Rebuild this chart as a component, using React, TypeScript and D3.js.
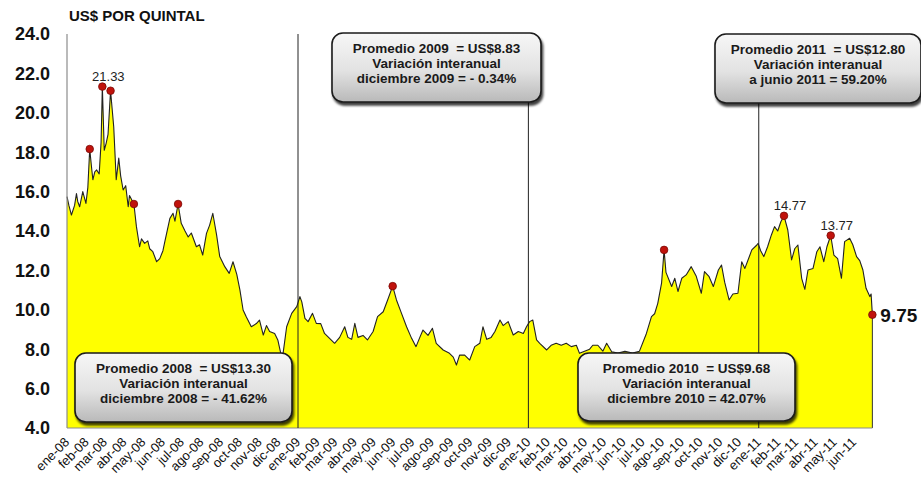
import React from 'react';
import * as d3 from 'd3';

// ---------- DATA ----------
const prices2008: [string, number][] = [
  ["2008-01-01",15.74],["2008-01-04",15.3],["2008-01-08",14.81],["2008-01-13",15.3],["2008-01-16",15.9],["2008-01-18",15.5],
  ["2008-01-21",15.23],["2008-01-26",16.0],["2008-01-31",15.4],["2008-02-03",16.2],["2008-02-06",18.16],["2008-02-09",17.2],
  ["2008-02-11",16.6],["2008-02-14",17.0],["2008-02-17",17.1],["2008-02-21",16.9],["2008-02-24",18.5],["2008-02-26",21.33],
  ["2008-02-29",18.1],["2008-03-03",18.45],["2008-03-06",18.9],["2008-03-10",21.12],["2008-03-15",19.3],["2008-03-19",16.6],
  ["2008-03-23",17.7],["2008-03-26",16.8],["2008-03-30",16.08],["2008-04-03",16.3],["2008-04-07",15.23],["2008-04-09",15.8],
  ["2008-04-16",15.37],["2008-04-20",14.22],["2008-04-25",13.2],["2008-04-28",13.6],["2008-05-03",13.37],["2008-05-08",13.5],
  ["2008-05-11",13.1],["2008-05-16",12.95],["2008-05-22",12.44],["2008-05-27",12.6],["2008-06-01",13.0],["2008-06-04",13.46],
  ["2008-06-12",14.64],["2008-06-17",14.9],["2008-06-20",14.5],["2008-06-25",15.37],["2008-06-30",14.39],["2008-07-06",14.0],
  ["2008-07-11",13.7],["2008-07-16",13.9],["2008-07-24",13.2],["2008-07-29",13.3],["2008-08-03",12.78],["2008-08-09",13.88],
  ["2008-08-14",14.3],["2008-08-19",14.9],["2008-08-25",13.8],["2008-08-30",12.7],["2008-09-07",12.19],["2008-09-14",11.85],
  ["2008-09-20",12.44],["2008-09-26",11.8],["2008-10-01",11.0],["2008-10-06",9.99],["2008-10-11",9.65],["2008-10-19",9.14],
  ["2008-10-27",9.3],["2008-11-01",9.48],["2008-11-07",8.72],["2008-11-12",9.2],["2008-11-17",8.9],["2008-11-25",8.8],
  ["2008-11-30",8.47],["2008-12-06",7.6],["2008-12-08",7.7],["2008-12-14",9.14],["2008-12-22",9.82],["2008-12-30",10.16],
];
const prices2009: [string, number][] = [
  ["2009-01-04",10.67],["2009-01-07",10.4],["2009-01-12",9.57],["2009-01-17",9.4],["2009-01-24",9.82],["2009-01-30",9.31],
  ["2009-02-06",9.3],["2009-02-12",8.8],["2009-02-20",8.55],["2009-02-28",8.3],["2009-03-08",8.6],["2009-03-16",9.14],
  ["2009-03-21",8.6],["2009-03-27",8.5],["2009-04-01",9.31],["2009-04-06",8.6],["2009-04-14",8.7],["2009-04-21",8.47],
  ["2009-04-30",8.9],["2009-05-07",9.65],["2009-05-16",9.9],["2009-05-23",10.5],["2009-05-31",11.2],["2009-06-06",10.5],
  ["2009-06-14",9.82],["2009-06-22",9.14],["2009-06-30",8.55],["2009-07-07",8.13],["2009-07-13",8.6],["2009-07-18",8.97],
  ["2009-07-26",8.7],["2009-08-02",9.06],["2009-08-08",8.3],["2009-08-19",7.96],["2009-08-29",7.79],["2009-09-04",7.6],
  ["2009-09-09",7.2],["2009-09-14",7.7],["2009-09-22",7.7],["2009-09-30",7.45],["2009-10-08",8.13],["2009-10-16",8.3],
  ["2009-10-21",9.14],["2009-10-27",8.5],["2009-11-03",8.6],["2009-11-09",8.9],["2009-11-17",9.48],["2009-11-22",9.2],
  ["2009-11-30",9.4],["2009-12-08",8.72],["2009-12-16",8.9],["2009-12-24",8.8],["2009-12-29",9.14],
];
const prices2010: [string, number][] = [
  ["2010-01-03",9.4],["2010-01-08",9.48],["2010-01-14",8.47],["2010-01-19",8.3],["2010-01-30",7.96],["2010-02-06",8.2],
  ["2010-02-14",8.3],["2010-02-22",8.2],["2010-03-02",8.3],["2010-03-10",8.13],["2010-03-18",8.2],["2010-03-23",7.79],
  ["2010-03-31",7.9],["2010-04-08",8.0],["2010-04-13",8.2],["2010-04-21",8.2],["2010-04-29",7.9],["2010-05-05",8.3],
  ["2010-05-13",7.87],["2010-05-23",7.8],["2010-06-03",7.9],["2010-06-15",7.8],["2010-06-26",7.9],["2010-07-07",8.8],
  ["2010-07-15",9.65],["2010-07-20",9.8],["2010-07-25",10.33],["2010-07-31",11.35],["2010-08-04",13.04],["2010-08-07",11.9],
  ["2010-08-16",11.18],["2010-08-21",11.6],["2010-08-26",10.93],["2010-09-01",11.6],["2010-09-08",11.77],["2010-09-16",12.19],
  ["2010-09-24",11.7],["2010-10-02",10.84],["2010-10-07",11.94],["2010-10-14",11.7],["2010-10-21",11.18],["2010-10-29",12.02],
  ["2010-11-03",12.27],["2010-11-08",11.4],["2010-11-15",10.5],["2010-11-21",10.8],["2010-11-29",10.84],["2010-12-05",12.44],
  ["2010-12-10",12.1],["2010-12-18",12.78],["2010-12-21",13.04],["2010-12-29",13.29],["2010-12-31",13.37],
];
const prices2011: [string, number][] = [
  ["2011-01-04",13.0],["2011-01-09",12.7],["2011-01-15",13.2],["2011-01-21",13.8],["2011-01-26",14.22],["2011-01-31",14.0],
  ["2011-02-05",14.47],["2011-02-10",14.77],["2011-02-16",14.05],["2011-02-22",12.53],["2011-02-27",13.1],["2011-03-04",13.29],
  ["2011-03-10",11.6],["2011-03-15",11.04],["2011-03-20",12.02],["2011-03-28",12.1],["2011-04-03",12.95],["2011-04-08",13.2],
  ["2011-04-14",12.44],["2011-04-19",13.2],["2011-04-25",13.77],["2011-04-30",12.78],["2011-05-06",12.6],["2011-05-12",11.6],
  ["2011-05-17",13.46],["2011-05-25",13.63],["2011-05-30",13.3],["2011-06-05",12.7],["2011-06-10",12.5],["2011-06-15",12.02],
  ["2011-06-20",11.09],["2011-06-26",10.67],["2011-06-28",10.8],["2011-06-30",9.75],
];

const markerDates = ["2008-02-06","2008-02-26","2008-03-10","2008-04-16","2008-06-25","2009-05-31","2010-08-04","2011-02-10","2011-04-25","2011-06-30"];
const peakLabelDates = ["2008-02-26","2011-02-10","2011-04-25"];
const peakLabelTexts = ["21.33","14.77","13.77"];
const lastLabelText = "9.75";

const yTickValues = [4,6,8,10,12,14,16,18,20,22,24];
const monthAbbr = ["ene","feb","mar","abr","may","jun","jul","ago","sep","oct","nov","dic"];
const yearLineDates = ["2009-01-01","2010-01-01","2011-01-01"];
const axisStart = "2008-01-01";
const axisEnd = "2011-07-01";
const unitTitle = "US$ POR QUINTAL";

const note2008 = ["Promedio 2008  = US$13.30","Variación interanual","diciembre 2008 = - 41.62%"];
const note2009 = ["Promedio 2009  = US$8.83","Variación interanual","diciembre 2009 = - 0.34%"];
const note2010 = ["Promedio 2010  = US$9.68","Variación interanual","diciembre 2010 = 42.07%"];
const note2011 = ["Promedio 2011  = US$12.80","Variación interanual","a junio 2011 = 59.20%"];

// ---------- CHART ----------
const W = 921, H = 477;
const FONT = '"Liberation Sans", Arial, sans-serif';

export default function App() {
  const parse = d3.timeParse('%Y-%m-%d');
  const data = [...prices2008, ...prices2009, ...prices2010, ...prices2011].map(([d, v]) => ({ date: parse(d) as Date, value: v }));
  const byDate = new Map(data.map(p => [+p.date, p.value]));

  const x = d3.scaleTime().domain([parse(axisStart) as Date, parse(axisEnd) as Date]).range([67, 873]);
  const y = d3.scaleLinear().domain([4, 24]).range([428, 34]);

  const area = d3.area<{ date: Date; value: number }>().x(d => x(d.date)).y0(y(4)).y1(d => y(d.value));
  const line = d3.line<{ date: Date; value: number }>().x(d => x(d.date)).y(d => y(d.value));

  const months = d3.timeMonth.range(parse(axisStart) as Date, parse(axisEnd) as Date);
  const last = data[data.length - 1];

  const notes = [
    { lines: note2008, x: 75, y: 353, w: 217, h: 69 },
    { lines: note2009, x: 332, y: 33, w: 209, h: 69 },
    { lines: note2010, x: 578, y: 353, w: 217, h: 68 },
    { lines: note2011, x: 715, y: 34, w: 206, h: 69 },
  ];

  return (
    <svg width={W} height={H} style={{ position: 'absolute', left: 0, top: 0, background: '#fff' }} fontFamily={FONT}>
      <defs>
        <linearGradient id="boxGrad" x1="0" y1="0" x2="0" y2="1">
          <stop offset="0%" stopColor="#f7f7f7" />
          <stop offset="55%" stopColor="#e2e2e2" />
          <stop offset="100%" stopColor="#b9b9b9" />
        </linearGradient>
        <filter id="shadow" x="-10%" y="-10%" width="130%" height="140%">
          <feDropShadow dx="1.5" dy="3" stdDeviation="1.2" floodColor="#000" floodOpacity="0.75" />
        </filter>
      </defs>

      <text x={69} y={21} fontSize={15} fontWeight="bold" fill="#111">{unitTitle}</text>

      {yTickValues.map(v => (
        <text key={v} x={50} y={y(v)} dy="0.36em" textAnchor="end" fontSize={18} fontWeight="bold" fill="#111">{v.toFixed(1)}</text>
      ))}

      <path d={area(data) || ''} fill="#ffff00" />
      <path d={line(data) || ''} fill="none" stroke="#222" strokeWidth={1.1} strokeLinejoin="round" />
      <line x1={x(last.date)} x2={x(last.date)} y1={y(last.value)} y2={y(4)} stroke="#333" strokeWidth={1} />

      {/* axes */}
      <line x1={67} x2={67} y1={y(24)} y2={y(4)} stroke="#8c8c8c" strokeWidth={1.2} />
      <line x1={67} x2={x(last.date)} y1={y(4)} y2={y(4)} stroke="#8c8c8c" strokeWidth={1.2} />

      {yearLineDates.map(d => (
        <line key={d} x1={x(parse(d) as Date)} x2={x(parse(d) as Date)} y1={y(24)} y2={y(4)} stroke="#222" strokeWidth={1} />
      ))}

      {months.map((m, i) => (
        <text key={i} transform={`translate(${x(m) + 3},${443}) rotate(-45)`} textAnchor="end" fontSize={13} fill="#111">
          {`${monthAbbr[m.getMonth()]}-${String(m.getFullYear()).slice(2)}`}
        </text>
      ))}

      {markerDates.map(d => {
        const dt = parse(d) as Date;
        return <circle key={d} cx={x(dt)} cy={y(byDate.get(+dt) as number)} r={3.8} fill="#c0120c" stroke="#7a0a06" strokeWidth={0.8} />;
      })}

      {peakLabelDates.map((d, i) => {
        const dt = parse(d) as Date;
        return (
          <text key={d} x={x(dt) + 6} y={y(byDate.get(+dt) as number) - 6} textAnchor="middle" fontSize={13} fill="#222">{peakLabelTexts[i]}</text>
        );
      })}
      <text x={x(last.date) + 8} y={y(last.value)} dy="0.36em" fontSize={19} fontWeight="bold" fill="#111">{lastLabelText}</text>

      {notes.map((n, i) => (
        <g key={i}>
          <rect x={n.x} y={n.y} width={n.w} height={n.h} rx={11} ry={11} fill="url(#boxGrad)" stroke="#1a1a1a" strokeWidth={1.6} filter="url(#shadow)" />
          {n.lines.map((t, j) => (
            <text key={j} x={n.x + n.w / 2} y={n.y + 20 + j * 15} textAnchor="middle" fontSize={13.5} fontWeight="bold" fill="#1a1a1a" style={{ whiteSpace: 'pre' }}>{t}</text>
          ))}
        </g>
      ))}
    </svg>
  );
}
